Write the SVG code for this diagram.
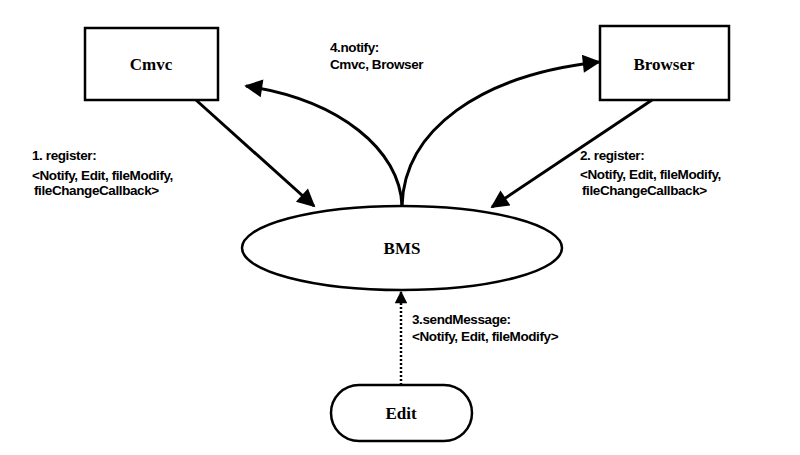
<svg xmlns="http://www.w3.org/2000/svg" width="800" height="455" viewBox="0 0 800 455">
<style>
.n{fill:#fff;stroke:#000;stroke-width:2.5}
.t{font-family:"Liberation Serif",serif;font-weight:bold;font-size:17px;text-anchor:middle}
.l{font-family:"Liberation Sans",Arial,sans-serif;font-size:13.5px;font-weight:bold;letter-spacing:-0.4px}
.c{fill:none;stroke:#000;stroke-width:3}
</style>
<defs>
<marker id="a" viewBox="0 0 10 10" refX="9" refY="5" markerWidth="9" markerHeight="6" orient="auto" markerUnits="strokeWidth"><path d="M0,0L10,5L0,10z"/></marker>
<marker id="b" viewBox="0 0 10 10" refX="9" refY="5" markerWidth="7" markerHeight="5" orient="auto" markerUnits="strokeWidth"><path d="M0,0L10,5L0,10z"/></marker>
</defs>
<g id="cmvc"><rect class="n" x="85" y="28" width="133" height="72"/><text class="t" x="151" y="70">Cmvc</text></g>
<g id="browser"><rect class="n" x="600" y="26" width="129" height="74"/><text class="t" x="664" y="70">Browser</text></g>
<g id="bms"><ellipse class="n" cx="402" cy="248" rx="160" ry="42"/><text class="t" x="402" y="254">BMS</text></g>
<g id="edit"><rect class="n" x="331" y="385" width="141" height="56" rx="28"/><text class="t" x="401" y="419">Edit</text></g>
<g id="connectors">
<line class="c" x1="196" y1="100" x2="314" y2="206" marker-end="url(#a)"/>
<line class="c" x1="652" y1="100" x2="492" y2="207" marker-end="url(#a)"/>
<path class="c" d="M402,206 C400,150 340,100 246,86" marker-end="url(#a)"/>
<path class="c" d="M402,206 C404,130 480,75 599,62" marker-end="url(#a)"/>
<line x1="401" y1="385" x2="401" y2="292" stroke="#000" stroke-width="2.5" stroke-dasharray="2,2" marker-end="url(#b)"/>
</g>
<g class="l">
<text x="330" y="52">4.notify:</text><text x="330" y="69">Cmvc, Browser</text>
<text x="32" y="160">1. register:</text><text x="32" y="180">&lt;Notify, Edit, fileModify,</text><text x="34" y="195">fileChangeCallback&gt;</text>
<text x="580" y="160">2. register:</text><text x="580" y="179">&lt;Notify, Edit, fileModify,</text><text x="582" y="195">fileChangeCallback&gt;</text>
<text x="412" y="324">3.sendMessage:</text><text x="412" y="341">&lt;Notify, Edit, fileModify&gt;</text>
</g>
</svg>
